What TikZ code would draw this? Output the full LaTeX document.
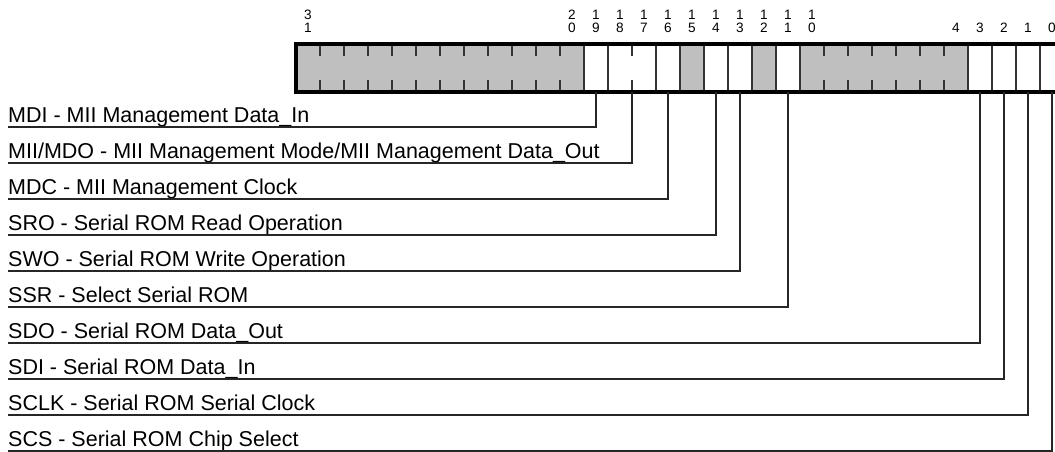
\documentclass[tikz,border=0pt]{standalone}
\usepackage{fontspec}
\setmainfont{Liberation Sans}
\begin{document}
\begin{tikzpicture}[x=1pt,y=-1pt,
  lbl/.style={font=\fontsize{21.5}{24}\selectfont, inner sep=0pt, anchor=base west},
  num/.style={font=\fontsize{13.6}{15}\selectfont, inner sep=0pt, anchor=base},
  sepline/.style={line width=1.3pt, draw=black!80},
  lead/.style={line width=1.4pt, draw=black!85},
  graycell/.style={fill=black!25}]
\clip (0,0) rectangle (1055,451);
% gray fields
\fill[graycell] (296,44) rectangle (584,92);
\fill[graycell] (680,44) rectangle (704,92);
\fill[graycell] (752,44) rectangle (776,92);
\fill[graycell] (800,44) rectangle (968,92);
% full separators
\foreach \x in {584,608,656,680,704,728,752,776,800,968,992,1016,1040}
  \draw[sepline] (\x,46) -- (\x,90);
% ticks
\foreach \x in {320,344,...,560,632,824,848,...,944}
  {\draw[sepline] (\x,46) -- (\x,56); \draw[sepline] (\x,80) -- (\x,90);}
% outline
\draw[line width=4pt] (296,44) rectangle (1064,92);
% bit numbers
\foreach \bitno/\dhi/\dlo in {31/3/1,20/2/0,19/1/9,18/1/8,17/1/7,16/1/6,15/1/5,14/1/4,13/1/3,12/1/2,11/1/1,10/1/0}
  {\node[num] (n\bitno a) at ({308+(31-\bitno)*24},19) {\dhi};
   \node[num] (n\bitno b) at ({308+(31-\bitno)*24},32.5) {\dlo};}
\foreach \bitno in {4,3,2,1,0}
  \node[num] (n\bitno b) at ({308+(31-\bitno)*24},32.5) {\bitno};
% leader start points
\coordinate (b1) at (596,92);
\coordinate (b2) at (632,92);
\coordinate (b3) at (668,92);
\coordinate (b4) at (716,92);
\coordinate (b5) at (740,92);
\coordinate (b6) at (788,92);
\coordinate (b7) at (980,92);
\coordinate (b8) at (1004,92);
\coordinate (b9) at (1028,92);
\coordinate (b10) at (1052,92);
% labels
\node[lbl] (t1) at (8,122) {MDI - MII Management Data\_In};
\node[lbl] (t2) at (8,158) {MII/MDO - MII Management Mode/MII Management Data\_Out};
\node[lbl] (t3) at (8,194) {MDC - MII Management Clock};
\node[lbl] (t4) at (8,230) {SRO - Serial ROM Read Operation};
\node[lbl] (t5) at (8,266) {SWO - Serial ROM Write Operation};
\node[lbl] (t6) at (8,302) {SSR - Select Serial ROM};
\node[lbl] (t7) at (8,338) {SDO - Serial ROM Data\_Out};
\node[lbl] (t8) at (8,374) {SDI - Serial ROM Data\_In};
\node[lbl] (t9) at (8,410) {SCLK - Serial ROM Serial Clock};
\node[lbl] (t10) at (8,446) {SCS - Serial ROM Chip Select};
% leaders
\foreach \i in {1,...,10}
  \draw[lead] (b\i) |- ([yshift=-5pt]t\i.base west);
\end{tikzpicture}
\end{document}
